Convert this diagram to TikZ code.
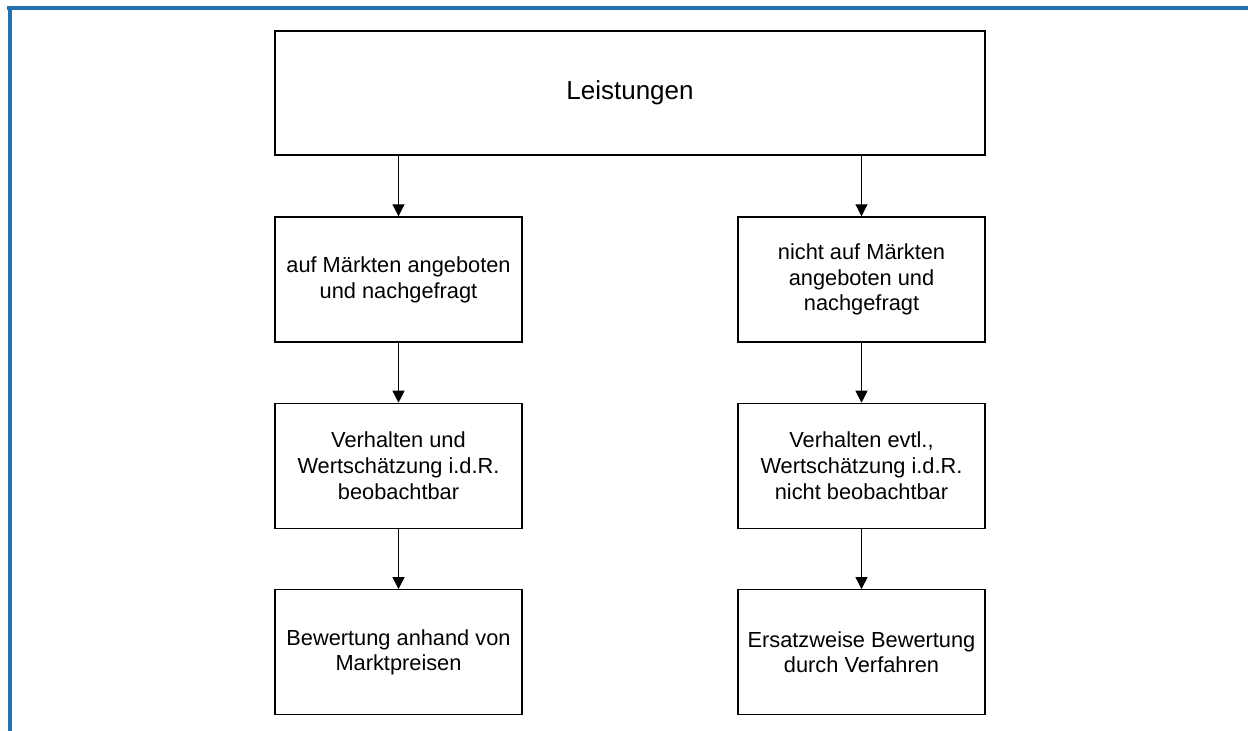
\documentclass[tikz,border=0pt]{standalone}
\usepackage{fontspec}
\setmainfont{Liberation Sans}
\usetikzlibrary{arrows.meta, positioning}
\definecolor{frameblue}{RGB}{34,113,178}

\begin{document}
\begin{tikzpicture}[
    box/.style={draw, line width=0.7pt, align=center, minimum width=123.5pt, minimum height=62.5pt, inner sep=0pt, font=\fontsize{10.9}{12.9}\selectfont},
    arrow/.style={line width=0.5pt,-{Triangle[width=6pt,length=6pt]}},
    frame/.style={line width=2pt, draw=frameblue}
]
\useasboundingbox (0,0) rectangle (624pt,-365.5pt);

% blue frame, top and left
\draw[frame] (5pt,-365.5pt) -- (5pt,-3pt);
\draw[frame] (3.5pt,-4pt) -- (624pt,-4pt);

\node[box, minimum width=355pt, minimum height=62pt, font=\fontsize{13}{15}\selectfont] (leist) at (315pt,-46.5pt) {Leistungen};

\node[box, below right=30.3pt and 0pt of leist.south west] (markt) {auf Märkten angeboten\\und nachgefragt};
\node[box, below=30pt of markt] (beob) {Verhalten und\\Wertschätzung i.d.R.\\beobachtbar};
\node[box, below=30pt of beob] (preis) {Bewertung anhand von\\Marktpreisen};

\node[box, below left=30.3pt and 0pt of leist.south east] (nmarkt) {nicht auf Märkten\\angeboten und\\nachgefragt};
\node[box, below=30pt of nmarkt] (nbeob) {Verhalten evtl.,\\Wertschätzung i.d.R.\\nicht beobachtbar};
\node[box, below=30pt of nbeob] (ersatz) {Ersatzweise Bewertung\\durch Verfahren};

\draw[arrow] (leist.south -| markt) -- (markt);
\draw[arrow] (markt) -- (beob);
\draw[arrow] (beob) -- (preis);

\draw[arrow] (leist.south -| nmarkt) -- (nmarkt);
\draw[arrow] (nmarkt) -- (nbeob);
\draw[arrow] (nbeob) -- (ersatz);

\end{tikzpicture}
\end{document}
